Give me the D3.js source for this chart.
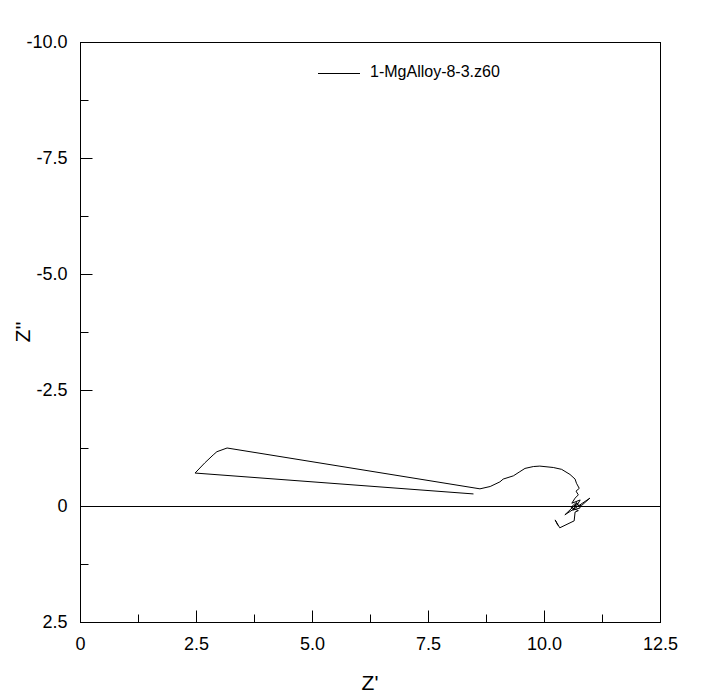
<!DOCTYPE html>
<html>
<head>
<meta charset="utf-8">
<script src="https://cdn.jsdelivr.net/npm/d3@7"></script>
<style>
  body { margin: 0; background: #fff; }
  svg text { font-family: "Liberation Sans", Arial, sans-serif; fill: #000; }
</style>
</head>
<body>
<svg width="721" height="699"></svg>
<script>
var seriesName = "1-MgAlloy-8-3.z60";

var zReal = [8.48, 2.48, 2.69, 2.87, 2.95, 3.17, 8.62, 8.84, 9.05, 9.12, 9.34, 9.48, 9.59, 9.77, 9.91,
  10.20, 10.38, 10.56, 10.67, 10.70, 10.76, 10.69, 10.74, 10.67, 10.60, 10.78, 10.69, 10.82, 10.99,
  10.65, 10.45, 10.71, 10.62, 10.78, 10.70, 10.58, 10.74, 10.67, 10.65, 10.34, 10.24, 10.30];
var zImag = [-0.26, -0.71, -0.93, -1.10, -1.17, -1.25, -0.37, -0.42, -0.52, -0.58, -0.65, -0.74, -0.81, -0.85, -0.86,
  -0.83, -0.79, -0.68, -0.58, -0.49, -0.38, -0.32, -0.24, -0.17, -0.06, -0.13, 0.02, -0.02, -0.17,
  0.06, 0.19, -0.06, 0.09, 0.04, -0.08, 0.03, 0.10, 0.13, 0.32, 0.47, 0.30, 0.42];

var xTicks = [0, 2.5, 5, 7.5, 10, 12.5];
var xMinor = [1.25, 3.75, 6.25, 8.75, 11.25];
var yTicks = [-10, -7.5, -5, -2.5, 0, 2.5];
var yMinor = [-8.75, -6.25, -3.75, -1.25, 1.25];

var margin = {left: 80, top: 42, right: 61, bottom: 77};
var width = 721, height = 699;

var xScale = d3.scaleLinear().domain([0, 12.5]).range([margin.left, width - margin.right]);
var yScale = d3.scaleLinear().domain([-10, 2.5]).range([margin.top, height - margin.bottom]);

function fmt(d) {
  return d === 0 ? "0" : d.toFixed(1);
}

var svg = d3.select('svg');

// frame
svg.append('rect')
  .attr('x', xScale(0) + 0.5)
  .attr('y', yScale(-10) + 0.5)
  .attr('width', xScale(12.5) - xScale(0))
  .attr('height', yScale(2.5) - yScale(-10))
  .attr('fill', 'none')
  .attr('stroke', '#000');

// zero line
svg.append('line')
  .attr('x1', xScale(0)).attr('x2', xScale(12.5))
  .attr('y1', yScale(0) + 0.5).attr('y2', yScale(0) + 0.5)
  .attr('stroke', '#000');

var axisBottom = d3.axisBottom(xScale).tickValues(xTicks).tickSize(-12).tickPadding(15).tickFormat(fmt);
var axisBottomMinor = d3.axisBottom(xScale).tickValues(xMinor).tickSize(-8).tickFormat("");
var axisLeft = d3.axisLeft(yScale).tickValues(yTicks).tickSize(-12).tickPadding(13).tickFormat(fmt);
var axisLeftMinor = d3.axisLeft(yScale).tickValues(yMinor).tickSize(-8).tickFormat("");

[[axisBottom, 'b'], [axisBottomMinor, 'b'], [axisLeft, 'l'], [axisLeftMinor, 'l']].forEach(function (a) {
  var g = svg.append('g')
    .attr('transform', a[1] === 'b'
      ? "translate(0," + (yScale(2.5) + 0.5) + ")"
      : "translate(" + (xScale(0) + 0.5) + ",0)")
    .call(a[0]);
  g.select('.domain').remove();
  g.selectAll('text').style('font-size', '18px').style('font-family', '"Liberation Sans", Arial, sans-serif');
});

// data trace
var pts = zReal.map(function (d, i) { return [d, zImag[i]]; });
var line = d3.line()
  .x(function (d) { return xScale(d[0]); })
  .y(function (d) { return yScale(d[1]); });

svg.append('path')
  .datum(pts)
  .attr('d', line)
  .attr('fill', 'none')
  .attr('stroke', '#000')
  .attr('stroke-width', 1);

// legend
svg.append('line')
  .attr('x1', 318).attr('x2', 360)
  .attr('y1', 73.5).attr('y2', 73.5)
  .attr('stroke', '#000');
svg.append('text')
  .attr('x', 370).attr('y', 77)
  .style('font-size', '16px')
  .text(seriesName);

// axis titles
svg.append('text')
  .attr('x', (xScale(0) + xScale(12.5)) / 2)
  .attr('y', 690)
  .style('text-anchor', 'middle')
  .style('font-size', '21px')
  .text("Z'");

svg.append('text')
  .attr('transform', 'rotate(-90)')
  .attr('x', -(yScale(-10) + yScale(2.5)) / 2)
  .attr('y', 30)
  .style('text-anchor', 'middle')
  .style('font-size', '21px')
  .text("Z''");
</script>
</body>
</html>
